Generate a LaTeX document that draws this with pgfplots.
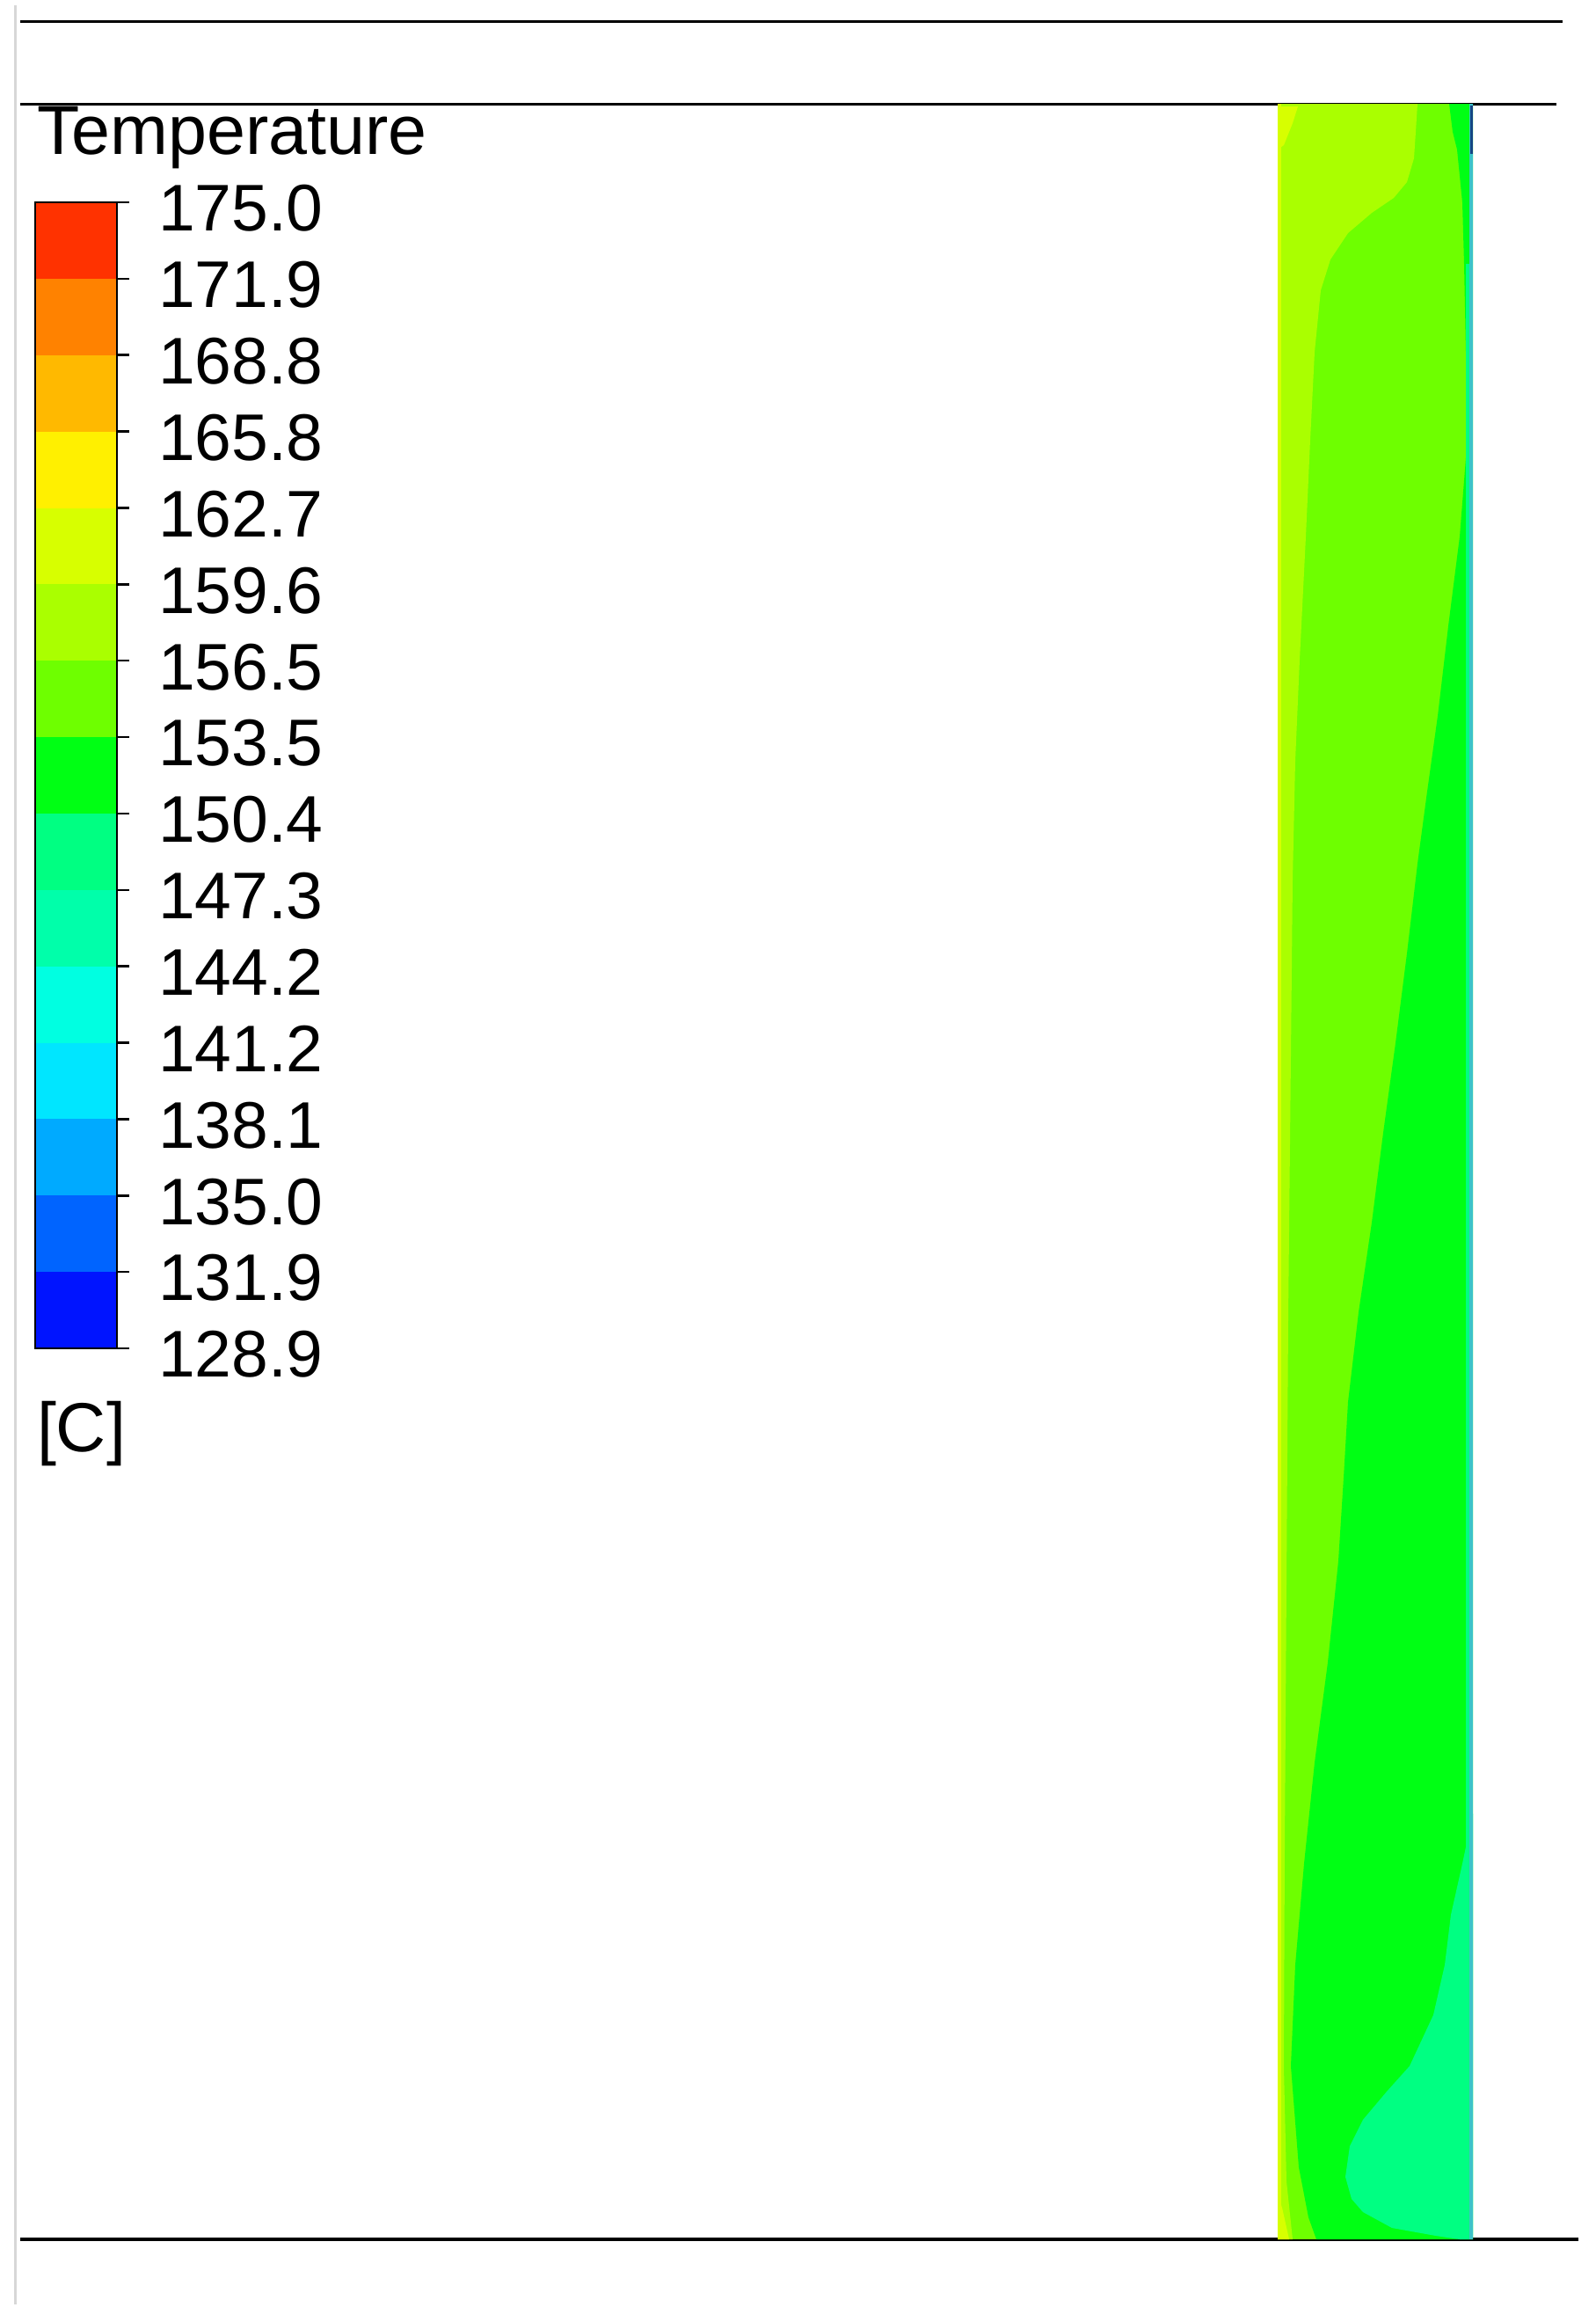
\documentclass[border=0pt]{standalone}
\usepackage{pgfplots}
\pgfplotsset{compat=1.18}
\usepackage{fontspec}
\setmainfont{Liberation Sans}
\definecolor{c1}{RGB}{255,50,0}
\definecolor{c2}{RGB}{255,130,0}
\definecolor{c3}{RGB}{255,185,0}
\definecolor{c4}{RGB}{255,240,0}
\definecolor{c5}{RGB}{215,255,0}
\definecolor{c6}{RGB}{170,255,0}
\definecolor{c7}{RGB}{110,255,0}
\definecolor{c8}{RGB}{0,255,20}
\definecolor{c9}{RGB}{0,255,130}
\definecolor{c10}{RGB}{0,255,170}
\definecolor{c11}{RGB}{0,255,225}
\definecolor{c12}{RGB}{0,230,255}
\definecolor{c13}{RGB}{0,170,255}
\definecolor{c14}{RGB}{0,100,255}
\definecolor{c15}{RGB}{0,20,255}
\definecolor{wallteal}{RGB}{60,195,200}
\definecolor{framegray}{RGB}{215,215,215}
\tikzset{lbl/.style={font=\fontsize{15}{18}\selectfont, inner sep=0pt, outer sep=0pt},
         ttl/.style={font=\fontsize{15.8}{18}\selectfont, inner sep=0pt, outer sep=0pt}}
\begin{document}
\begin{tikzpicture}
\begin{axis}[
  scale only axis, width=363pt, height=528pt,
  xmin=0, xmax=1815, ymin=0, ymax=2640, y dir=reverse,
  hide axis, clip=false,
]
% background
\addplot[fill=white, draw=none] coordinates {(0,0)(1815,0)(1815,2640)(0,2640)} -- cycle;
% frame lines
\addplot[framegray, line width=0.6pt] coordinates {(17,6)(17,2620)};
\addplot[black, line width=0.6pt] coordinates {(23,24)(1777,24)};
\addplot[black, line width=0.6pt] coordinates {(23,118)(1770,118)};
\addplot[black, line width=0.65pt] coordinates {(23,2546)(1795,2546)};
% ---- contour field ----
\addplot[fill=c7, draw=none] coordinates {(1453,118)(1675,118)(1675,2546)(1453,2546)} -- cycle;
\addplot[fill=c6, draw=none] coordinates {
 (1453,118)(1612,118)(1610,150)(1608,180)(1600,207)(1585,225)(1560,242)(1533,265)
 (1513,295)(1502,330)(1495,400)(1490,500)(1485,610)(1478,750)(1473,865)(1470,1000)
 (1468,1200)(1465,1500)(1463,1800)(1461,2100)(1460,2350)(1463,2480)(1470,2546)(1453,2546)} -- cycle;
\addplot[fill=c8, draw=none] coordinates {
 (1648,118)(1652,150)(1657,170)(1663,230)(1665,300)(1667,400)(1668,508)(1660,610)
 (1647,712)(1635,814)(1623,900)(1612,982)(1600,1084)(1587,1186)(1573,1288)(1560,1390)
 (1545,1492)(1533,1594)(1528,1680)(1522,1775)(1510,1890)(1495,2004)(1483,2119)
 (1473,2234)(1468,2349)(1477,2464)(1488,2521)(1497,2546)(1675,2546)(1675,118)} -- cycle;
\addplot[fill=c9, draw=none] coordinates {
 (1675,2062)(1663,2119)(1650,2177)(1643,2234)(1630,2291)(1603,2349)(1577,2378)
 (1550,2410)(1535,2440)(1530,2475)(1537,2500)(1550,2515)(1583,2533)(1633,2542)
 (1660,2546)(1675,2546)} -- cycle;
% wall layers
\addplot[fill=c9, draw=none] coordinates {(1667,300)(1671,300)(1671,2546)(1667,2546)} -- cycle;
\addplot[fill=c5, draw=none] coordinates {(1453,118)(1457,118)(1457,2546)(1453,2546)} -- cycle;
\addplot[fill=c5, draw=none] coordinates {(1453,121)(1476,121)(1470,140)(1460,165)(1453,170)} -- cycle;
\addplot[fill=c5, draw=none] coordinates {(1453,2495)(1458,2510)(1466,2546)(1453,2546)} -- cycle;
\addplot[fill=wallteal, draw=none] coordinates {(1671,118)(1675,118)(1675,2546)(1671,2546)} -- cycle;
\addplot[fill={rgb,255:red,20;green,70;blue,130}, draw=none] coordinates {(1672,120)(1675,120)(1675,175)(1672,175)} -- cycle;
% ---- colour legend ----
\addplot[fill=c1, draw=none] coordinates {(40,230)(133,230)(133,316.9)(40,316.9)} -- cycle;
\addplot[fill=c2, draw=none] coordinates {(40,316.9)(133,316.9)(133,403.7)(40,403.7)} -- cycle;
\addplot[fill=c3, draw=none] coordinates {(40,403.7)(133,403.7)(133,490.6)(40,490.6)} -- cycle;
\addplot[fill=c4, draw=none] coordinates {(40,490.6)(133,490.6)(133,577.5)(40,577.5)} -- cycle;
\addplot[fill=c5, draw=none] coordinates {(40,577.5)(133,577.5)(133,664.3)(40,664.3)} -- cycle;
\addplot[fill=c6, draw=none] coordinates {(40,664.3)(133,664.3)(133,751.2)(40,751.2)} -- cycle;
\addplot[fill=c7, draw=none] coordinates {(40,751.2)(133,751.2)(133,838.1)(40,838.1)} -- cycle;
\addplot[fill=c8, draw=none] coordinates {(40,838.1)(133,838.1)(133,924.9)(40,924.9)} -- cycle;
\addplot[fill=c9, draw=none] coordinates {(40,924.9)(133,924.9)(133,1011.8)(40,1011.8)} -- cycle;
\addplot[fill=c10, draw=none] coordinates {(40,1011.8)(133,1011.8)(133,1098.7)(40,1098.7)} -- cycle;
\addplot[fill=c11, draw=none] coordinates {(40,1098.7)(133,1098.7)(133,1185.5)(40,1185.5)} -- cycle;
\addplot[fill=c12, draw=none] coordinates {(40,1185.5)(133,1185.5)(133,1272.4)(40,1272.4)} -- cycle;
\addplot[fill=c13, draw=none] coordinates {(40,1272.4)(133,1272.4)(133,1359.3)(40,1359.3)} -- cycle;
\addplot[fill=c14, draw=none] coordinates {(40,1359.3)(133,1359.3)(133,1446.1)(40,1446.1)} -- cycle;
\addplot[fill=c15, draw=none] coordinates {(40,1446.1)(133,1446.1)(133,1533)(40,1533)} -- cycle;
\addplot[black, line width=0.55pt] coordinates {(40,230)(133,230)(133,1533)(40,1533)} -- cycle;
% ticks
\pgfplotsinvokeforeach{230,316.9,403.7,490.6,577.5,664.3,751.2,838.1,924.9,1011.8,1098.7,1185.5,1272.4,1359.3,1446.1,1533}{
  \addplot[black, line width=0.5pt] coordinates {(133,#1)(147,#1)};
}
% labels
\node[ttl, anchor=base west] at (axis cs:42,175) {Temperature};
\node[lbl, anchor=west] at (axis cs:180,237) {175.0};
\node[lbl, anchor=west] at (axis cs:180,323.9) {171.9};
\node[lbl, anchor=west] at (axis cs:180,410.7) {168.8};
\node[lbl, anchor=west] at (axis cs:180,497.6) {165.8};
\node[lbl, anchor=west] at (axis cs:180,584.5) {162.7};
\node[lbl, anchor=west] at (axis cs:180,671.3) {159.6};
\node[lbl, anchor=west] at (axis cs:180,758.2) {156.5};
\node[lbl, anchor=west] at (axis cs:180,845.1) {153.5};
\node[lbl, anchor=west] at (axis cs:180,931.9) {150.4};
\node[lbl, anchor=west] at (axis cs:180,1018.8) {147.3};
\node[lbl, anchor=west] at (axis cs:180,1105.7) {144.2};
\node[lbl, anchor=west] at (axis cs:180,1192.5) {141.2};
\node[lbl, anchor=west] at (axis cs:180,1279.4) {138.1};
\node[lbl, anchor=west] at (axis cs:180,1366.3) {135.0};
\node[lbl, anchor=west] at (axis cs:180,1453.1) {131.9};
\node[lbl, anchor=west] at (axis cs:180,1540) {128.9};
\node[ttl, anchor=base west] at (axis cs:42,1650) {[C]};
\end{axis}
\end{tikzpicture}
\end{document}
